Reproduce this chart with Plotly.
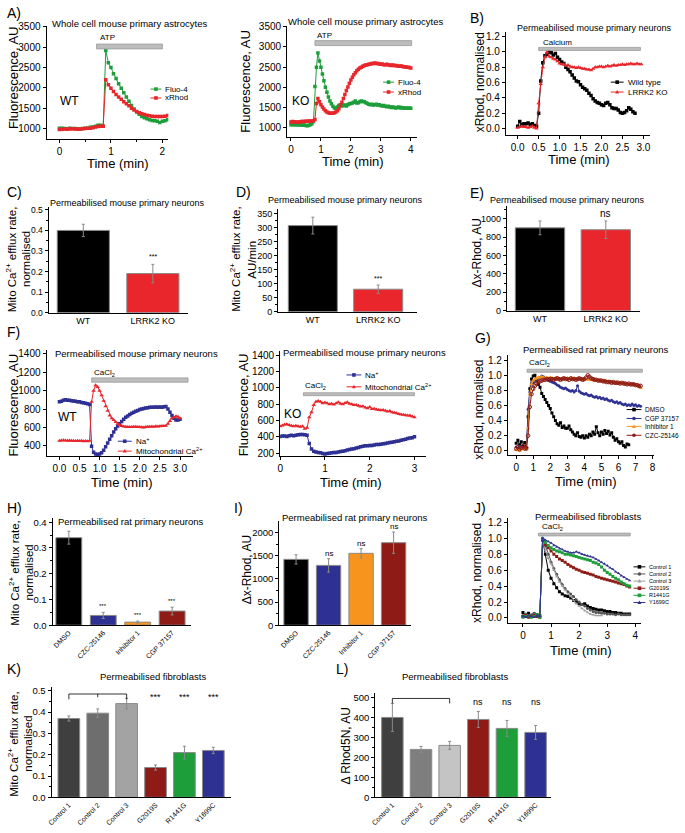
import plotly.graph_objects as go

W, H = 685, 833
FONT = "Liberation Sans, Arial, sans-serif"


def tgrid(step, n, start=0.0):
    return [round(start + i * step, 4) for i in range(n)]

# ================= DATA =================
# A) whole-cell astrocytes, sampled every 0.05 min
A_DT = 0.05
A_WT_FLUO4 = [1010, 1005, 1000, 995, 1005, 1000, 1000, 995, 990, 1000, 1005, 1010, 1030, 1040, 1060, 1080, 1080, 1060,
              2920, 2620, 2500, 2350, 2230, 2100, 1990, 1880, 1780, 1670, 1570, 1480, 1410, 1350, 1300, 1265, 1240,
              1215, 1200, 1190, 1180, 1150, 1180, 1190, 1215]
A_WT_XRHOD = [980, 985, 990, 985, 990, 995, 990, 985, 990, 995, 1000, 1005, 1010, 1020, 1040, 1050, 1055, 1060,
              2200, 2080, 1990, 1910, 1840, 1780, 1720, 1660, 1610, 1560, 1500, 1460, 1420, 1390, 1365, 1345, 1330,
              1315, 1305, 1300, 1295, 1295, 1300, 1305, 1320]
A_KO_FLUO4 = [1075, 1080, 1075, 1070, 1075, 1070, 1065, 1070, 1060, 1065, 1055, 1050, 1060, 1080, 1100, 1150,
              2020, 2500, 2850, 2650, 2500, 2330, 2160, 2000, 1880, 1760, 1660, 1590, 1530, 1490, 1480, 1510, 1550,
              1570, 1540, 1550, 1560, 1540, 1570, 1590, 1600, 1610, 1630, 1660, 1610, 1620, 1640, 1660, 1650, 1640,
              1620, 1600, 1580, 1570, 1580, 1560, 1570, 1580, 1560, 1570, 1550, 1540, 1550, 1530, 1520, 1530, 1510,
              1500, 1510, 1500, 1490, 1500, 1510, 1490, 1500, 1490, 1480, 1490, 1480, 1490, 1480]
A_KO_XRHOD = [1140, 1150, 1145, 1140, 1135, 1140, 1145, 1150, 1150, 1155, 1160, 1160, 1165, 1160, 1165, 1170,
              1200, 1600, 1720, 1640, 1570, 1510, 1460, 1420, 1390, 1370, 1360, 1355, 1360, 1370, 1390, 1420, 1470,
              1550, 1630, 1720, 1820, 1920, 2010, 2100, 2180, 2250, 2310, 2360, 2410, 2450, 2480, 2500, 2520, 2540,
              2550, 2560, 2570, 2580, 2590, 2590, 2600, 2590, 2590, 2580, 2570, 2580, 2560, 2560, 2570, 2550, 2550,
              2540, 2550, 2540, 2540, 2530, 2530, 2520, 2530, 2510, 2510, 2500, 2500, 2490, 2480]
A_ATP_WT = [0.72, 2.0]
A_ATP_KO = [0.8, 4.03]

# B) permeabilised mouse neurons, xRhod normalised, every 0.05 min
B_DT = 0.05
B_WT = [0.03, 0.09, 0.05, 0.06, 0.06, 0.07, 0.05, 0.06, 0.04, 0.03, 0.20, 0.62, 0.86, 0.95, 0.97, 1.00, 0.99, 0.96,
        0.98, 0.93, 0.90, 0.87, 0.85, 0.80, 0.77, 0.74, 0.70, 0.66, 0.62, 0.61, 0.57, 0.54, 0.52, 0.50, 0.46, 0.43,
        0.39, 0.36, 0.34, 0.33, 0.31, 0.30, 0.33, 0.34, 0.31, 0.27, 0.26, 0.26, 0.24, 0.21, 0.20, 0.21, 0.23, 0.27,
        0.25, 0.22, 0.20]
B_KO = [0.01, 0.02, 0.03, 0.02, 0.02, 0.01, 0.02, 0.03, 0.01, 0.00, 0.33, 0.58, 0.80, 0.93, 1.00, 0.94, 0.93, 0.91,
        0.90, 0.88, 0.85, 0.84, 0.84, 0.82, 0.83, 0.81, 0.80, 0.80, 0.79, 0.80, 0.79, 0.78, 0.78, 0.77, 0.77, 0.76,
        0.78, 0.80, 0.80, 0.81, 0.81, 0.80, 0.81, 0.82, 0.81, 0.82, 0.83, 0.82, 0.83, 0.83, 0.84, 0.83, 0.84, 0.84,
        0.85, 0.84, 0.84, 0.85, 0.84, 0.84]
B_CALCIUM = [0.5, 2.93]

# C, D, E) bar charts (mouse neurons)
CDE_GROUPS = ["WT", "LRRK2 KO"]
C_MEAN = [0.40, 0.19]
C_ERR = [0.03, 0.045]
C_SIG = ["", "***"]
D_MEAN = [307, 80]
D_ERR = [30, 15]
D_SIG = ["", "***"]
E_MEAN = [900, 880]
E_ERR = [75, 95]
E_SIG = ["", "ns"]

# F) Na+ and mitochondrial Ca2+, every 0.05 min
F_DT = 0.05
F_WT_NA = [880, 885, 895, 900, 895, 895, 890, 888, 885, 880, 878, 872, 868, 862, 858, 850, 395, 330, 310, 305, 310,
           325, 350, 390, 430, 470, 510, 550, 585, 615, 640, 665, 690, 710, 725, 740, 755, 765, 775, 785, 795, 800,
           805, 810, 815, 818, 820, 820, 822, 820, 822, 820, 825, 828, 800, 765, 730, 700, 680, 680, 690]
F_WT_MITO = [455, 458, 460, 458, 455, 457, 456, 455, 453, 455, 452, 454, 450, 452, 450, 455, 880, 1000, 1060, 1040,
             1000, 950, 890, 830, 780, 730, 700, 680, 660, 640, 625, 615, 610, 607, 605, 603, 605, 606, 608, 605, 605,
             602, 600, 605, 608, 606, 610, 608, 612, 610, 612, 614, 615, 618, 640, 670, 700, 710, 720, 715, 700]
F_KO_NA = [405, 410, 410, 405, 415, 420, 415, 420, 425, 430, 430, 425, 420, 320, 250, 225, 215, 210, 205, 195, 190,
           195, 200, 205, 210, 210, 215, 220, 225, 230, 240, 245, 250, 255, 265, 270, 280, 285, 290, 290, 295, 295,
           300, 305, 305, 310, 315, 320, 325, 330, 335, 340, 345, 350, 360, 365, 370, 380, 385, 390, 400]
F_KO_MITO = [530, 540, 550, 555, 545, 535, 530, 535, 530, 525, 530, 500, 510, 640, 700, 790, 830, 840, 830, 810,
             820, 810, 800, 805, 795, 810, 825, 805, 800, 815, 825, 805, 800, 790, 790, 780, 770, 775, 760, 750, 765,
             740, 745, 735, 730, 725, 730, 720, 710, 715, 700, 695, 690, 680, 675, 670, 665, 660, 660, 650, 640]
F_CACL2_WT = [0.8, 3.2]
F_CACL2_KO = [0.52, 3.0]

# G) rat neurons, every 0.1 min
G_DT = 0.1
G_DMSO = [0.10, 0.14, 0.08, 0.12, 0.06, 0.11, 0.03, 0.45, 0.82, 0.95, 0.99, 1.00, 0.93, 0.88, 0.84, 0.76, 0.72, 0.68,
          0.64, 0.60, 0.56, 0.50, 0.45, 0.40, 0.36, 0.34, 0.37, 0.31, 0.33, 0.30, 0.30, 0.33, 0.28, 0.25, 0.22, 0.20,
          0.24, 0.19, 0.18, 0.20, 0.17, 0.20, 0.18, 0.22, 0.20, 0.25, 0.22, 0.32, 0.24, 0.20, 0.25, 0.22, 0.27, 0.23,
          0.26, 0.21, 0.24, 0.18, 0.14, 0.16, 0.12, 0.10, 0.12, 0.07, 0.05, 0.09, 0.08]
G_CGP = [0.05, 0.03, 0.06, 0.04, 0.05, 0.03, 0.02, 0.55, 0.78, 0.86, 0.90, 0.92, 0.94, 0.96, 0.97, 0.99, 0.98, 0.96,
         0.95, 0.93, 0.92, 0.91, 0.90, 0.89, 0.87, 0.86, 0.84, 0.83, 0.82, 0.83, 0.81, 0.80, 0.79, 0.80, 0.78, 0.80,
         0.86, 0.79, 0.77, 0.76, 0.75, 0.76, 0.74, 0.73, 0.74, 0.72, 0.71, 0.72, 0.70, 0.71, 0.69, 0.70, 0.68, 0.69,
         0.67, 0.66, 0.67, 0.65, 0.64, 0.65, 0.63, 0.64, 0.62, 0.61, 0.62, 0.60, 0.61, 0.60, 0.62, 0.60, 0.61, 0.59,
         0.60, 0.59]
G_INH1 = [0.01, 0.02, 0.00, 0.03, 0.02, 0.04, 0.02, 0.30, 0.75, 0.88, 0.93, 0.95, 0.96, 0.97, 0.97, 0.98, 0.97, 0.96,
          0.97, 0.96, 0.97, 0.96, 0.95, 0.96, 0.97, 0.96, 0.95, 0.96, 0.96, 0.95, 0.96, 0.95, 0.96, 0.95, 0.96, 0.95,
          0.95, 0.96, 0.95, 0.94, 0.95, 0.94, 0.95, 0.94, 0.94, 0.94, 0.93, 0.94, 0.93, 0.93, 0.93, 0.92, 0.93, 0.92,
          0.92, 0.92, 0.91, 0.91, 0.90, 0.91, 0.90, 0.90, 0.89, 0.90, 0.89, 0.89, 0.88, 0.88, 0.87, 0.88, 0.87, 0.86,
          0.85, 0.83]
G_CZC = [0.03, 0.05, 0.02, 0.04, 0.06, 0.03, 0.04, 0.20, 0.58, 0.75, 0.82, 0.86, 0.89, 0.91, 0.92, 0.93, 0.94, 0.94,
         0.95, 0.94, 0.95, 0.95, 0.94, 0.95, 0.96, 0.95, 0.94, 0.95, 0.96, 0.95, 0.95, 0.94, 0.96, 0.95, 0.95, 0.94,
         0.95, 0.96, 0.95, 0.94, 0.95, 0.97, 1.00, 0.98, 0.96, 0.95, 0.94, 0.94, 0.93, 0.93, 0.93, 0.92, 0.92, 0.91,
         0.91, 0.91, 0.90, 0.91, 0.90, 0.90, 0.90, 0.89, 0.90, 0.89, 0.89, 0.88, 0.89, 0.88, 0.88, 0.88, 0.87, 0.87,
         0.86, 0.86]
G_CACL2 = [0.64, 7.4]

# H, I) bar charts (rat neurons)
HI_GROUPS = ["DMSO", "CZC-25146", "Inhibitor 1", "CGP 37157"]
H_MEAN = [0.34, 0.038, 0.012, 0.055]
H_ERR = [0.025, 0.012, 0.004, 0.015]
H_SIG = ["", "***", "***", "***"]
I_MEAN = [1420, 1290, 1550, 1780]
I_ERR = [100, 145, 100, 230]
I_SIG = ["", "ns", "ns", "ns"]

# J) fibroblasts, every 0.1 min
J_DT = 0.1
J_CONTROL1 = [0.07, 0.03, 0.06, 0.02, 0.05, 0.04, 0.03, 0.98, 0.80, 0.60, 0.50, 0.43, 0.38, 0.33, 0.30, 0.28, 0.27,
              0.25, 0.22, 0.20, 0.18, 0.17, 0.18, 0.15, 0.13, 0.12, 0.11, 0.10, 0.10, 0.09, 0.08, 0.08, 0.07, 0.07,
              0.06, 0.06, 0.05, 0.05, 0.05]
J_CONTROL2 = [0.03, 0.05, 0.02, 0.04, 0.06, 0.03, 0.02, 1.00, 0.90, 0.80, 0.70, 0.62, 0.55, 0.48, 0.42, 0.37, 0.33,
              0.30, 0.27, 0.23, 0.20, 0.17, 0.15, 0.12, 0.10, 0.08, 0.07, 0.07, 0.06, 0.06, 0.05, 0.05, 0.05, 0.04,
              0.05, 0.04, 0.04, 0.04, 0.04]
J_CONTROL3 = [0.02, 0.04, 0.03, 0.01, 0.04, 0.02, 0.03, 0.97, 0.85, 0.75, 0.68, 0.60, 0.52, 0.45, 0.40, 0.35, 0.30,
              0.27, 0.22, 0.18, 0.15, 0.12, 0.09, 0.07, 0.05, 0.04, 0.03, 0.03, 0.03]
J_G2019S = [0.02, 0.03, 0.01, 0.02, 0.03, 0.02, 0.01, 0.98, 0.92, 0.88, 0.84, 0.80, 0.77, 0.74, 0.72, 0.70, 0.67,
            0.65, 0.63, 0.61, 0.60, 0.58, 0.57, 0.56, 0.55, 0.54, 0.52, 0.51, 0.50, 0.49, 0.48, 0.47, 0.46, 0.45,
            0.44, 0.43, 0.42, 0.40, 0.39]
J_R1441G = [0.01, 0.02, 0.03, 0.01, 0.02, 0.04, 0.01, 1.00, 0.95, 0.91, 0.88, 0.86, 0.84, 0.83, 0.82, 0.80, 0.80,
            0.79, 0.78, 0.77, 0.76, 0.75, 0.74, 0.73, 0.72, 0.70, 0.69, 0.67, 0.64, 0.60, 0.57, 0.55, 0.52, 0.50,
            0.48, 0.45, 0.43, 0.41, 0.40]
J_Y1699C = [0.02, 0.01, 0.03, 0.02, 0.01, 0.03, 0.02, 1.00, 0.98, 0.96, 0.94, 0.91, 0.89, 0.87, 0.86, 0.84, 0.83,
            0.82, 0.82, 0.83, 0.82, 0.80, 0.79, 0.78, 0.77, 0.76, 0.74, 0.72, 0.70, 0.68, 0.66, 0.63, 0.61, 0.58,
            0.56, 0.53, 0.51, 0.49, 0.47]
J_CACL2 = [0.55, 3.82]

# K, L) fibroblast bar charts
KL_GROUPS = ["Control 1", "Control 2", "Control 3", "G2019S", "R1441G", "Y1699C"]
K_MEAN = [0.37, 0.395, 0.44, 0.14, 0.21, 0.22]
K_ERR = [0.012, 0.02, 0.025, 0.012, 0.03, 0.015]
K_SIG = ["", "", "", "***", "***", "***"]
L_MEAN = [400, 240, 260, 390, 345, 325]
L_ERR = [70, 15, 20, 40, 40, 35]
L_SIG = ["", "", "", "ns", "ns", "ns"]

# ================= STYLE =================
GREEN = "#1E9E3A"
RED = "#E8262B"
NAVY = "#2E3192"
ORANGE = "#F7941D"
DRED = "#8E1B16"
GRAYBAR = "#BDBDBD"

fig = go.Figure()
annotations = []
shapes = []
axes = {}


def add_axis(n, xpx, ypx, xr, yr, xkw=None, ykw=None):
    base = dict(showline=True, linecolor="black", linewidth=1, ticks="outside", ticklen=3, tickwidth=1,
                tickcolor="black", showgrid=False, zeroline=False, fixedrange=True,
                tickfont=dict(size=10, color="black", family=FONT))
    xa = dict(base, domain=[xpx[0] / W, xpx[1] / W], range=xr, anchor=f"y{n}")
    ya = dict(base, domain=[1 - ypx[1] / H, 1 - ypx[0] / H], range=yr, anchor=f"x{n}")
    if xkw:
        xa.update(xkw)
    if ykw:
        ya.update(ykw)
    key = "" if n == 1 else str(n)
    axes[f"xaxis{key}"] = xa
    axes[f"yaxis{key}"] = ya


def ax_ref(n):
    return ("x" if n == 1 else f"x{n}"), ("y" if n == 1 else f"y{n}")


def ptext(text, x, y, size=10, xanchor="center", yanchor="middle", angle=0):
    annotations.append(dict(text=text, x=x / W, y=1 - y / H, xref="paper", yref="paper", xanchor=xanchor,
                            yanchor=yanchor, showarrow=False, textangle=angle,
                            font=dict(size=size, color="black", family=FONT)))


def line_trace(n, t, y, color, symbol="square", size=3.5, name=""):
    xr, yr = ax_ref(n)
    fig.add_trace(go.Scatter(x=t, y=y, mode="lines+markers", xaxis=xr, yaxis=yr, name=name, showlegend=False,
                             line=dict(color=color, width=1), marker=dict(color=color, size=size, symbol=symbol,
                                                                          line=dict(width=0, color=color))))


def stim_bar(n, period, y0, y1, label, lx, ly, size=8):
    xr, yr = ax_ref(n)
    shapes.append(dict(type="rect", xref=xr, yref=yr, x0=period[0], x1=period[1], y0=y0, y1=y1,
                       fillcolor=GRAYBAR, line=dict(color="#9a9a9a", width=0.8)))
    annotations.append(dict(text=label, x=lx, y=ly, xref=xr, yref=yr, xanchor="left", yanchor="middle",
                            showarrow=False, font=dict(size=size, color="black", family=FONT)))


def legend_item(x0, x1, y, color, symbol, text, size=8):
    shapes.append(dict(type="line", xref="paper", yref="paper", x0=x0 / W, x1=x1 / W, y0=1 - y / H, y1=1 - y / H,
                       line=dict(color=color, width=1)))
    xm = (x0 + x1) / 2
    if symbol == "triangle":
        shapes.append(dict(type="path", xref="paper", yref="paper", xsizemode="pixel", ysizemode="pixel",
                           xanchor=xm / W, yanchor=1 - y / H, path="M -2,-1.5 L 2,-1.5 L 0,2 Z",
                           fillcolor=color, line=dict(width=0)))
    else:
        shapes.append(dict(type="rect" if symbol == "square" else "circle", xref="paper", yref="paper",
                           xsizemode="pixel", ysizemode="pixel", xanchor=xm / W, yanchor=1 - y / H,
                           x0=-1.8, x1=1.8, y0=-1.8, y1=1.8, fillcolor=color, line=dict(width=0)))
    ptext(text, x1 + 2, y, size=size, xanchor="left")


def bar_panel(n, groups, mean, err, colors, sig, sig_size=7, sig_gap=0.0):
    xr, yr = ax_ref(n)
    fig.add_trace(go.Bar(x=groups, y=mean, xaxis=xr, yaxis=yr, showlegend=False, width=0.75,
                         marker=dict(color=colors, line=dict(color="#8a8a8a", width=1)),
                         error_y=dict(type="data", array=err, color="#8a8a8a", thickness=1, width=1.5)))
    for g, m, e, s in zip(groups, mean, err, sig):
        if s:
            annotations.append(dict(text=s, x=g, y=m + e + sig_gap, xref=xr, yref=yr, xanchor="center",
                                    yanchor="bottom", showarrow=False,
                                    font=dict(size=sig_size, color="black", family=FONT)))


# ---------------- Row 1 ----------------
add_axis(1, (42, 165), (22, 136), [-0.25, 2.115], [755, 3530],
         xkw=dict(tickvals=[0, 1, 2], minor=dict(ticks="outside", ticklen=2, tickvals=[0.5, 1.5])),
         ykw=dict(tickvals=[1000, 1500, 2000, 2500, 3000, 3500]))
line_trace(1, tgrid(A_DT, len(A_WT_FLUO4)), A_WT_FLUO4, GREEN)
line_trace(1, tgrid(A_DT, len(A_WT_XRHOD)), A_WT_XRHOD, RED)
stim_bar(1, A_ATP_WT, 2960, 3080, "ATP", 0.74, 3230)
ptext("A)", 0, 9, size=14, xanchor="left")
ptext("Whole cell mouse primary astrocytes", 45, 20, size=9.5, xanchor="left")
ptext("Fluorescence, AU", 8, 74, size=13, angle=-90)
ptext("Time (min)", 114, 161, size=13)
ptext("WT", 65, 98, size=12)
legend_item(147, 158, 86, GREEN, "square", "Fluo-4")
legend_item(147, 158, 95, RED, "square", "xRhod")

add_axis(2, (285, 416), (22, 134), [-0.13, 4.2], [780, 3525],
         xkw=dict(tickvals=[0, 1, 2, 3, 4]),
         ykw=dict(tickvals=[1000, 1500, 2000, 2500, 3000, 3500]))
line_trace(2, tgrid(A_DT, len(A_KO_FLUO4)), A_KO_FLUO4, GREEN)
line_trace(2, tgrid(A_DT, len(A_KO_XRHOD)), A_KO_XRHOD, RED)
stim_bar(2, A_ATP_KO, 3034, 3157, "ATP", 0.8, 3290)
ptext("Whole cell mouse primary astrocytes", 284, 18, size=9.5, xanchor="left")
ptext("Fluorescence, AU", 243, 78, size=13, angle=-90)
ptext("Time (min)", 352, 159, size=13)
ptext("KO", 299, 98, size=12)
legend_item(382, 393, 79, GREEN, "square", "Fluo-4")
legend_item(382, 393, 89, RED, "square", "xRhod")

add_axis(3, (506, 652), (28, 132), [-0.283, 3.166], [-0.08, 1.265],
         xkw=dict(tickvals=[0, 0.5, 1, 1.5, 2, 2.5, 3], tickformat=".1f"),
         ykw=dict(tickvals=[0, 0.2, 0.4, 0.6, 0.8, 1.0, 1.2], tickformat=".1f"))
line_trace(3, tgrid(B_DT, len(B_WT)), B_WT, "black")
line_trace(3, tgrid(B_DT, len(B_KO)), B_KO, RED, symbol="triangle-up", size=4)
stim_bar(3, B_CALCIUM, 1.02, 1.06, "Calcium", 0.55, 1.12)
ptext("B)", 468, 14, size=14, xanchor="left")
ptext("Permeabilised mouse primary neurons", 515, 24, size=9, xanchor="left")
ptext("xRhod, normalised", 480, 79, size=12, angle=-90)
ptext("Time (min)", 580, 157, size=13)
legend_item(612, 625, 79, "black", "square", "Wild type")
legend_item(612, 625, 89, RED, "triangle", "LRRK2 KO")

# ---------------- Row 2 ----------------
bar_kw = dict(ticks="", tickfont=dict(size=9, color="black", family=FONT))
add_axis(4, (44, 185), (205, 312), [-0.5, 1.507], [0, 0.515], xkw=dict(bar_kw),
         ykw=dict(tickvals=[0, 0.1, 0.2, 0.3, 0.4, 0.5], tickformat=".1f", tickfont=dict(size=8.5),
                  minor=dict(ticks="outside", ticklen=2, dtick=0.05)))
bar_panel(4, CDE_GROUPS, C_MEAN, C_ERR, ["black", RED], C_SIG, sig_gap=0.01)
ptext("C)", 0, 190, size=14, xanchor="left")
ptext("Permeabilised mouse primary neurons", 43, 201, size=9, xanchor="left")
ptext("Mito Ca<sup>2+</sup> efflux rate,", 6, 258, size=11.5, angle=-90)
ptext("normalised", 21, 258, size=11.5, angle=-90)

add_axis(5, (276, 416), (207, 311), [-0.53, 1.59], [0, 367], xkw=dict(bar_kw),
         ykw=dict(tickvals=[0, 50, 100, 150, 200, 250, 300, 350], tickfont=dict(size=9),
                  minor=dict(ticks="outside", ticklen=2, dtick=25)))
bar_panel(5, CDE_GROUPS, D_MEAN, D_ERR, ["black", RED], D_SIG, sig_gap=5)
ptext("D)", 231, 190, size=14, xanchor="left")
ptext("Permeabilised mouse primary neurons", 264, 198, size=9, xanchor="left")
ptext("Mito Ca<sup>2+</sup> efflux rate,", 233, 258, size=11.5, angle=-90)
ptext("AU/min", 250, 258, size=11.5, angle=-90)

add_axis(6, (507, 642), (204, 310), [-0.504, 1.526], [0, 1140], xkw=dict(bar_kw),
         ykw=dict(tickvals=[0, 200, 400, 600, 800, 1000], tickfont=dict(size=9),
                  minor=dict(ticks="outside", ticklen=2, dtick=100)))
bar_panel(6, CDE_GROUPS, E_MEAN, E_ERR, ["black", RED], E_SIG, sig_size=10, sig_gap=5)
ptext("E)", 468, 191, size=14, xanchor="left")
ptext("Permeabilised mouse primary neurons", 488, 198, size=9, xanchor="left")
ptext("Δx-Rhod, AU", 477, 252, size=12, angle=-90)

# ---------------- Row 3 ----------------
add_axis(7, (42, 190), (350, 457), [-0.32, 3.325], [288, 1440],
         xkw=dict(tickvals=[0, 0.5, 1, 1.5, 2, 2.5, 3], tickformat=".1f"),
         ykw=dict(tickvals=[400, 600, 800, 1000, 1200, 1400]))
line_trace(7, tgrid(F_DT, len(F_WT_NA)), F_WT_NA, NAVY)
line_trace(7, tgrid(F_DT, len(F_WT_MITO)), F_WT_MITO, RED, symbol="triangle-up", size=4)
stim_bar(7, F_CACL2_WT, 1092, 1139, "CaCl<sub>2</sub>", 0.82, 1195)
ptext("F)", 0, 332, size=14, xanchor="left")
ptext("Permeabilised mouse primary neurons", 49, 353, size=9.5, xanchor="left")
ptext("Fluorescence, AU", 9, 405, size=13, angle=-90)
ptext("Time (min)", 118, 484, size=13)
ptext("WT", 63, 418, size=12)
legend_item(114, 128, 442, NAVY, "square", "Na<sup>+</sup>")
legend_item(114, 128, 452, RED, "triangle", "Mitochondrial Ca<sup>2+</sup>")

add_axis(8, (278, 425), (351, 457), [0, 3.25], [165, 1448],
         xkw=dict(tickvals=[0, 1, 2, 3]),
         ykw=dict(tickvals=[200, 400, 600, 800, 1000, 1200, 1400]))
line_trace(8, tgrid(F_DT, len(F_KO_NA)), F_KO_NA, NAVY)
line_trace(8, tgrid(F_DT, len(F_KO_MITO)), F_KO_MITO, RED, symbol="triangle-up", size=4)
stim_bar(8, F_CACL2_KO, 904, 940, "CaCl<sub>2</sub>", 0.52, 1025)
ptext("Permeabilised mouse primary neurons", 279, 352, size=9.5, xanchor="left")
ptext("Fluorescence, AU", 241, 405, size=13, angle=-90)
ptext("Time (min)", 350, 484, size=13)
ptext("KO", 290, 414, size=12)
legend_item(345, 360, 375, NAVY, "square", "Na<sup>+</sup>")
legend_item(345, 360, 387, RED, "triangle", "Mitochondrial Ca<sup>2+</sup>")

add_axis(9, (508, 656), (355, 456), [-0.49, 8.1], [-0.056, 1.266],
         xkw=dict(tickvals=[0, 1, 2, 3, 4, 5, 6, 7, 8]),
         ykw=dict(tickvals=[0, 0.2, 0.4, 0.6, 0.8, 1.0, 1.2], tickformat=".1f"))
line_trace(9, tgrid(G_DT, len(G_DMSO)), G_DMSO, "black", size=3)
line_trace(9, tgrid(G_DT, len(G_CGP)), G_CGP, NAVY, symbol="circle", size=3)
line_trace(9, tgrid(G_DT, len(G_INH1)), G_INH1, ORANGE, symbol="triangle-up", size=4)
line_trace(9, tgrid(G_DT, len(G_CZC)), G_CZC, DRED, symbol="circle-open", size=3.5)
stim_bar(9, G_CACL2, 1.04, 1.08, "CaCl<sub>2</sub>", 0.65, 1.16)
ptext("G)", 473, 338, size=14, xanchor="left")
ptext("Permeabilised rat primary neurons", 521, 349, size=9.5, xanchor="left")
ptext("xRhod, normalised", 478, 410, size=12, angle=-90)
ptext("Time (min)", 587, 483, size=13)
for (lab, col, sym), yy in zip([("DMSO", "black", "square"), ("CGP 37157", NAVY, "circle"),
                                ("Inhibitor 1", ORANGE, "triangle"), ("CZC-25146", DRED, "circle")],
                               [410, 419, 427, 436]):
    legend_item(628, 643, yy, col, sym, lab, size=6.5)

# ---------------- Row 4 ----------------
rot_kw = dict(ticks="", tickangle=-45, tickfont=dict(size=7, color="black", family=FONT))
add_axis(10, (48, 188), (520, 628), [-0.474, 3.55], [0, 0.415], xkw=dict(rot_kw),
         ykw=dict(tickvals=[0, 0.1, 0.2, 0.3, 0.4], tickformat=".1f", tickfont=dict(size=9.5),
                  minor=dict(ticks="outside", ticklen=2, dtick=0.05)))
bar_panel(10, HI_GROUPS, H_MEAN, H_ERR, ["black", NAVY, ORANGE, DRED], H_SIG, sig_size=6, sig_gap=0.004)
ptext("H)", 0, 510, size=14, xanchor="left")
ptext("Permeabilised rat primary neurons", 52, 523, size=9.5, xanchor="left")
ptext("Mito Ca<sup>2+</sup> efflux rate,", 9, 575, size=11.5, angle=-90)
ptext("normalised", 24, 575, size=11.5, angle=-90)

add_axis(11, (277, 410), (523, 628), [-0.52, 3.53], [0, 2240], xkw=dict(rot_kw),
         ykw=dict(tickvals=[0, 500, 1000, 1500, 2000], tickfont=dict(size=9.5),
                  minor=dict(ticks="outside", ticklen=2, dtick=250)))
bar_panel(11, HI_GROUPS, I_MEAN, I_ERR, ["black", NAVY, ORANGE, DRED], I_SIG, sig_size=8, sig_gap=-30)
ptext("I)", 229, 510, size=14, xanchor="left")
ptext("Permeabilised rat primary neurons", 278, 519, size=9.5, xanchor="left")
ptext("Δx-Rhod, AU", 244, 572, size=12, angle=-90)

add_axis(12, (508, 643), (520, 626), [-0.54, 4.22], [-0.066, 1.25],
         xkw=dict(tickvals=[0, 1, 2, 3, 4]),
         ykw=dict(tickvals=[0, 0.2, 0.4, 0.6, 0.8, 1.0, 1.2], tickformat=".1f"))
J_SERIES = [("Control 1", J_CONTROL1, "black", "square"), ("Control 2", J_CONTROL2, "#555555", "circle"),
            ("Control 3", J_CONTROL3, "#A0A0A0", "triangle-up"), ("G2019S", J_G2019S, DRED, "square"),
            ("R1441G", J_R1441G, GREEN, "square"), ("Y1699C", J_Y1699C, NAVY, "triangle-up")]
for name, vals, col, sym in J_SERIES:
    line_trace(12, tgrid(J_DT, len(vals)), vals, col, symbol=sym, size=3)
stim_bar(12, J_CACL2, 1.03, 1.065, "CaCl<sub>2</sub>", 0.6, 1.14)
ptext("J)", 472, 510, size=14, xanchor="left")
ptext("Permeabilised fibroblasts", 533, 518, size=9.5, xanchor="left")
ptext("xRhod, normalised", 477, 575, size=12, angle=-90)
ptext("Time (min)", 582, 654, size=13)
for i, (name, vals, col, sym) in enumerate(J_SERIES):
    legend_item(635, 647, 569 + 7.2 * i, col, "triangle" if sym == "triangle-up" else sym, name, size=5.5)

# ---------------- Row 5 ----------------
KL_COLORS_K = ["#3F3F3F", "#6E6E6E", "#A3A3A3", DRED, GREEN, NAVY]
KL_COLORS_L = ["#3F3F3F", "#7E7E7E", "#C4C4C4", DRED, GREEN, NAVY]
add_axis(13, (47, 228), (690, 802), [-0.6, 5.6], [0, 0.52], xkw=dict(rot_kw),
         ykw=dict(tickvals=[0, 0.1, 0.2, 0.3, 0.4, 0.5], tickformat=".1f", tickfont=dict(size=9.5),
                  minor=dict(ticks="outside", ticklen=2, dtick=0.05)))
bar_panel(13, KL_GROUPS, K_MEAN, K_ERR, KL_COLORS_K, ["", "", "", "", "", ""])
for g, s in zip(KL_GROUPS, K_SIG):
    if s:
        annotations.append(dict(text=s, x=g, y=0.47, xref="x13", yref="y13", showarrow=False,
                                font=dict(size=9, color="black", family=FONT)))
shapes.append(dict(type="path", xref="x13", yref="y13", path="M 0,0.46 L 0,0.485 L 2,0.485 L 2,0.46",
                   line=dict(color="black", width=0.8)))
shapes.append(dict(type="line", xref="x13", yref="y13", x0=1, x1=1, y0=0.485, y1=0.47,
                   line=dict(color="black", width=0.8)))
ptext("K)", 0, 672, size=14, xanchor="left")
ptext("Permeabilised fibroblasts", 150, 680, size=9.5)
ptext("Mito Ca<sup>2+</sup> efflux rate,", 8, 748, size=11.5, angle=-90)
ptext("normalised", 23, 748, size=11.5, angle=-90)

add_axis(14, (374, 552), (697, 802), [-0.6, 5.55], [0, 520], xkw=dict(rot_kw),
         ykw=dict(tickvals=[0, 100, 200, 300, 400, 500], tickfont=dict(size=9.5),
                  minor=dict(ticks="outside", ticklen=2, dtick=50)))
bar_panel(14, KL_GROUPS, L_MEAN, L_ERR, KL_COLORS_L, ["", "", "", "", "", ""])
for g, s in zip(KL_GROUPS, L_SIG):
    if s:
        annotations.append(dict(text=s, x=g, y=478, xref="x14", yref="y14", showarrow=False,
                                font=dict(size=9, color="black", family=FONT)))
shapes.append(dict(type="path", xref="x14", yref="y14", path="M 0,470 L 0,495 L 2,495 L 2,470",
                   line=dict(color="black", width=0.8)))
ptext("L)", 332, 672, size=14, xanchor="left")
ptext("Permeabilised fibroblasts", 455, 680, size=9.5)
ptext("Δ Rhod5N, AU", 344, 750, size=12, angle=-90)

fig.update_layout(width=W, height=H, margin=dict(l=0, r=0, t=0, b=0), paper_bgcolor="white",
                  plot_bgcolor="rgba(0,0,0,0)", showlegend=False, bargap=0.25,
                  font=dict(family=FONT, color="black"), annotations=annotations, shapes=shapes, **axes)
fig.write_html("out.html", config={"displayModeBar": False, "staticPlot": True},
               post_script="document.body.style.margin='0px';document.body.style.padding='0px';"
                           "document.body.style.overflow='hidden';")
